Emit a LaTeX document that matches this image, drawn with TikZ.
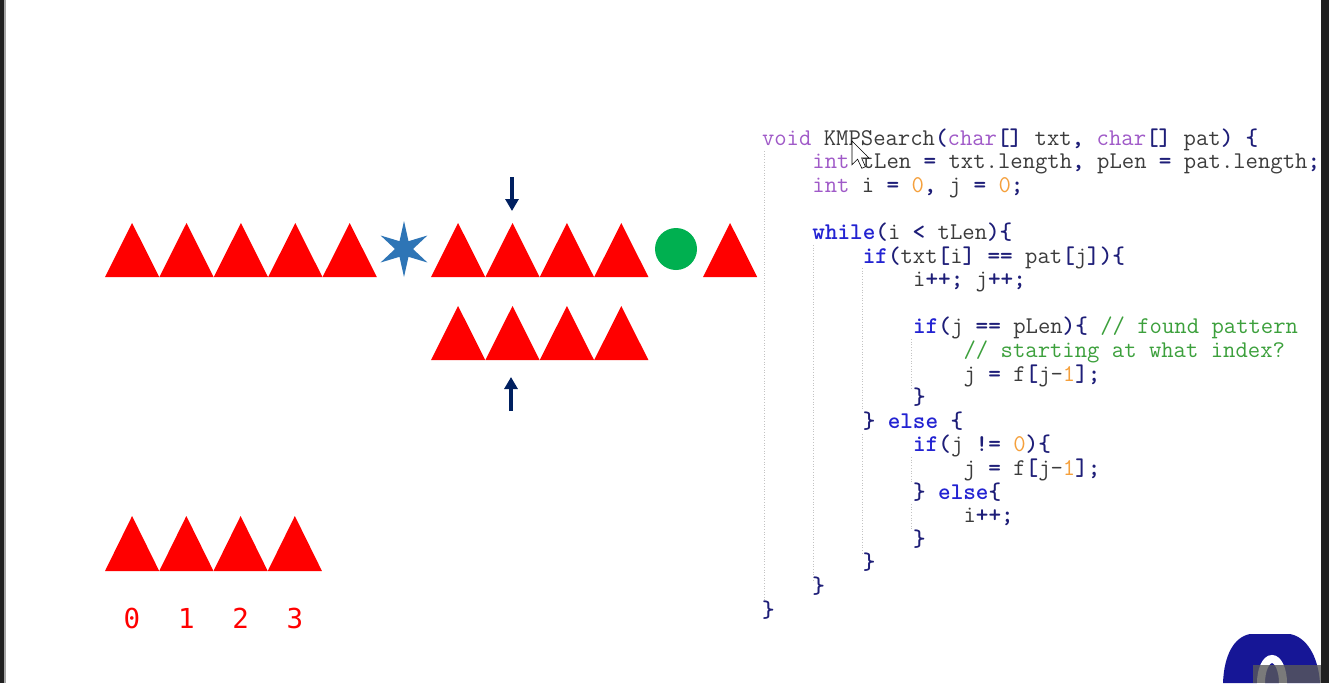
\documentclass[tikz,border=0pt]{standalone}
\usepackage{fontspec}
\usetikzlibrary{arrows.meta}
\newfontfamily\digfont{DejaVu Sans Mono}
\definecolor{kwc}{RGB}{160,90,200}
\definecolor{ctc}{RGB}{35,35,210}
\definecolor{puc}{RGB}{30,30,120}
\definecolor{txc}{RGB}{60,60,60}
\definecolor{nmc}{RGB}{245,160,60}
\definecolor{cmc}{RGB}{60,160,60}
\definecolor{trired}{RGB}{255,0,0}
\definecolor{starblue}{RGB}{46,117,182}
\definecolor{dotgreen}{RGB}{0,176,80}
\definecolor{navy}{RGB}{0,32,96}
\definecolor{blobc}{RGB}{22,22,150}
\definecolor{darkedge}{RGB}{32,32,32}
\definecolor{guidec}{RGB}{195,195,195}
\newcommand\kwA[1]{\textcolor{kwc}{#1}}
\newcommand\ctA[1]{\textcolor{ctc}{\bfseries #1}}
\newcommand\puA[1]{\textcolor{puc}{\bfseries #1}}
\newcommand\nmA[1]{\textcolor{nmc}{#1}}
\newcommand\cmA[1]{\textcolor{cmc}{#1}}
\tikzset{
  codeline/.style={anchor=base west, inner sep=0pt, outer sep=0pt,
    font=\ttfamily\fontsize{24}{26}\selectfont, text=txc},
  digit/.style={anchor=base, inner sep=0pt, text=trired,
    font=\digfont\fontsize{27.5}{30}\selectfont},
  guide/.style={draw=guidec, line width=0.7pt, dotted},
  pointer/.style={draw=navy, line width=3.5pt, -{Triangle[width=13pt,length=12pt]}},
  trifill/.style={fill=trired},
}
\begin{document}
\begin{tikzpicture}[x=1pt,y=-1pt]
\useasboundingbox (0,0) rectangle (1329,683);
\fill[white] (0,0) rectangle (1329,683);
% screen edges
\fill[darkedge] (0,0) rectangle (4,683);
\fill[gray!70] (4,0) rectangle (5.5,683);
% triangles top row
\foreach \x in {105,159.4,213.8,268.2,322.6,431,485.4,539.8,594.2,703}{
  \fill[trifill] (\x,277) -- (\x+27.1,223) -- (\x+54.2,277) -- cycle;
}
% second row
\foreach \x in {431,485.4,539.8,594.2}{
  \fill[trifill] (\x,360) -- (\x+27.1,306) -- (\x+54.2,360) -- cycle;
}
% bottom row
\foreach \x in {105,159.25,213.5,267.75}{
  \fill[trifill] (\x,571) -- (\x+27.1,516) -- (\x+54.2,571) -- cycle;
}
% star (six points, vertical points up and down)
\fill[starblue] ([shift={(-90:28)}]404,249)
  \foreach \a/\r in {-60/9,-30/27,0/9,30/27,60/9,90/28,120/9,150/27,180/9,210/27,240/9}{
    -- ([shift={(\a:\r)}]404,249)
  } -- cycle;
% circle
\fill[dotgreen] (676,249) circle (21);
% pointers
\coordinate (dA) at (512,177);
\coordinate (dB) at (512,211);
\coordinate (uA) at (511,411);
\coordinate (uB) at (511,377);
\draw[pointer] (dA) -- (dB);
\draw[pointer] (uA) -- (uB);
% index digits
\node[digit] (d0) at (132,628) {0};
\node[digit] (d1) at (186.4,628) {1};
\node[digit] (d2) at (240.6,628) {2};
\node[digit] (d3) at (294.9,628) {3};
% indent guides
\draw[guide] (764,151) -- (764,600);
\draw[guide] (813,245) -- (813,580);
\draw[guide] (862,268) -- (862,411);
\draw[guide] (862,434) -- (862,553);
\draw[guide] (911,339) -- (911,388);
\draw[guide] (911,457) -- (911,482);
\draw[guide] (911,504) -- (911,529);
% code
\node[codeline] (L1) at (762,145) {\kwA{void} KMPSearch\puA{(}\kwA{char}\puA{[]} txt\puA{,} \kwA{char}\puA{[]} pat\puA{)} \puA{\{}};
\node[codeline] (L2) at (812.4,168.6) {\kwA{int} tLen \puA{=} txt.length\puA{,} pLen \puA{=} pat.length\puA{;}};
\node[codeline] (L3) at (812.4,192.2) {\kwA{int} i \puA{=} \nmA{0}\puA{,} j \puA{=} \nmA{0}\puA{;}};
\node[codeline] (L5) at (812.4,239.4) {\ctA{while}\puA{(}i \puA{<} tLen\puA{)\{}};
\node[codeline] (L6) at (862.8,263.0) {\ctA{if}\puA{(}txt\puA{[}i\puA{]} \puA{==} pat\puA{[}j\puA{])\{}};
\node[codeline] (L7) at (913.2,286.6) {i\puA{++;} j\puA{++;}};
\node[codeline] (L9) at (913.2,333.8) {\ctA{if}\puA{(}j \puA{==} pLen\puA{)\{} \cmA{// found pattern}};
\node[codeline] (L10) at (963.6,357.4) {\cmA{// starting at what index?}};
\node[codeline] (L11) at (963.6,381.0) {j \puA{=} f\puA{[}j-\nmA{1}\puA{];}};
\node[codeline] (L12) at (913.2,404.6) {\puA{\}}};
\node[codeline] (L13) at (862.8,428.2) {\puA{\}} \ctA{else} \puA{\{}};
\node[codeline] (L14) at (913.2,451.8) {\ctA{if}\puA{(}j \puA{!=} \nmA{0}\puA{)\{}};
\node[codeline] (L15) at (963.6,475.4) {j \puA{=} f\puA{[}j-\nmA{1}\puA{];}};
\node[codeline] (L16) at (913.2,499.0) {\puA{\}} \ctA{else}\puA{\{}};
\node[codeline] (L17) at (963.6,522.6) {i\puA{++;}};
\node[codeline] (L18) at (913.2,546.2) {\puA{\}}};
\node[codeline] (L19) at (862.8,569.8) {\puA{\}}};
\node[codeline] (L20) at (812.4,593.4) {\puA{\}}};
\node[codeline] (L21) at (762,617.0) {\puA{\}}};
% mouse cursor
\begin{scope}[shift={(852,141)}, scale=1.4]
\filldraw[fill=white, draw=black, line width=0.6pt, line join=miter]
  (0,0) -- (0,17) -- (4,13) -- (7,19.5) -- (9.6,18.4) -- (6.8,12) -- (12,12) -- cycle;
\end{scope}
% bottom-right blob
\fill[blobc] (1223,683) .. controls (1224,655) and (1234,637) .. (1250,634)
  -- (1290,634) .. controls (1306,637) and (1318,655) .. (1320,683) -- cycle;
\draw[white, line width=8pt] (1272,683) ellipse (11 and 24);
\fill[gray!60!darkedge, opacity=0.8] (1253,665) rectangle (1321,683);
\fill[darkedge] (1321,0) rectangle (1329,683);
\end{tikzpicture}
\end{document}
